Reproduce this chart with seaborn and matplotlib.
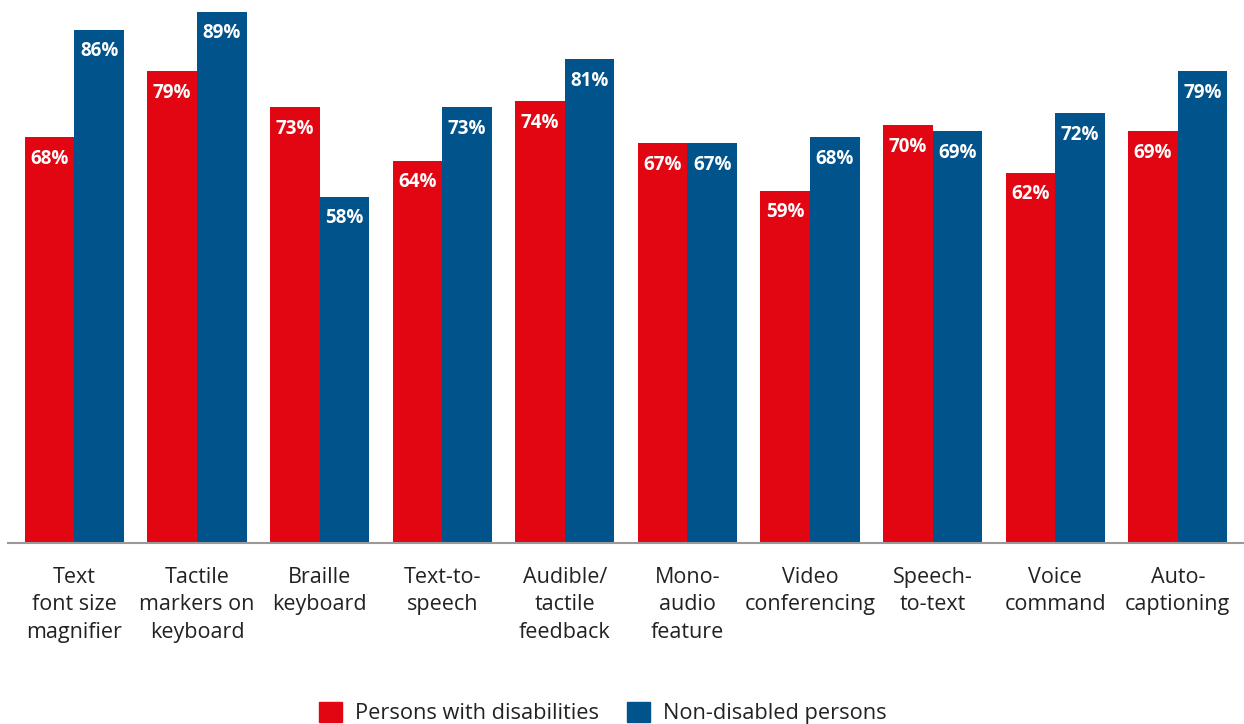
import matplotlib
matplotlib.use("Agg")
import matplotlib.pyplot as plt
import matplotlib.patches as mpatches
import seaborn as sns
import pandas as pd

categories = ["Text\nfont size\nmagnifier", "Tactile\nmarkers on\nkeyboard", "Braille\nkeyboard",
              "Text-to-\nspeech", "Audible/\ntactile\nfeedback", "Mono-\naudio\nfeature",
              "Video\nconferencing", "Speech-\nto-text", "Voice\ncommand", "Auto-\ncaptioning"]
series_names = ["Persons with disabilities", "Non-disabled persons"]
disabled = [68, 79, 73, 64, 74, 67, 59, 70, 62, 69]
non_disabled = [86, 89, 58, 73, 81, 67, 68, 69, 72, 79]
colors = ["#E20613", "#00538B"]

df = pd.DataFrame({
    "category": categories * 2,
    "group": [series_names[0]] * len(categories) + [series_names[1]] * len(categories),
    "value": disabled + non_disabled,
})

sns.set_theme(style="white")
plt.rcParams['font.family'] = ['Open Sans', 'DejaVu Sans']

fig = plt.figure(figsize=(12.44, 7.24), dpi=100)
ax = fig.add_axes([8 / 1244, 1 - 543 / 724, (1244 - 8) / 1244, 543 / 724])

sns.barplot(data=df, x="category", y="value", hue="group", order=categories,
            hue_order=series_names, palette=colors, width=0.81, saturation=1,
            linewidth=0, ax=ax, legend=False)

ax.set_xlim(-0.542, 9.54)
ax.set_ylim(0, 90.95)
ax.set_xlabel("")
ax.set_ylabel("")
ax.set_yticks([])
for s in ["top", "right", "left"]:
    ax.spines[s].set_visible(False)
ax.spines["bottom"].set_color("#999999")
ax.spines["bottom"].set_linewidth(1.5)
ax.tick_params(axis="x", length=0, pad=17, labelsize=15.5, colors="#222222")
for t in ax.get_xticklabels():
    t.set_linespacing(1.43)

for container in ax.containers:
    for bar in container:
        h = bar.get_height()
        ax.annotate(f"{h:.0f}%", (bar.get_x() + bar.get_width() / 2, h),
                    xytext=(0, -15.5), textcoords="offset points",
                    ha="center", va="center", color="white",
                    fontsize=13.5, fontweight="bold")

handles = [mpatches.Patch(color=c, label=n) for c, n in zip(colors, series_names)]
fig.legend(handles=handles, loc="center", bbox_to_anchor=(0.4845, 1 - 713 / 724),
           ncol=2, frameon=False, fontsize=15.7, handlelength=1.05, handleheight=1.05,
           handletextpad=0.6, columnspacing=1.3, labelcolor="#222222")

fig.savefig("out.png", dpi=100)
